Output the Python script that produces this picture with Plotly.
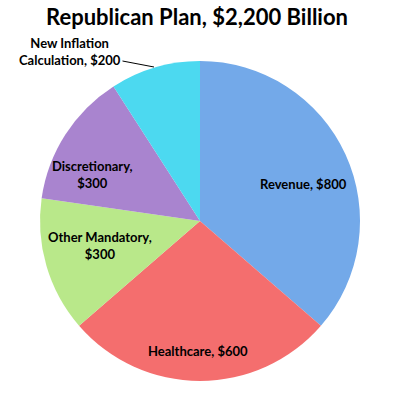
import plotly.graph_objects as go

categories = ["Revenue", "Healthcare", "Other Mandatory", "Discretionary", "New Inflation Calculation"]
values = [800, 600, 300, 300, 200]
label_text = ["Revenue, $800", "Healthcare, $600", "Other Mandatory,<br>$300", "Discretionary,<br>$300", "New Inflation<br>Calculation, $200"]
colors = ["#73a9e9", "#f46e6e", "#b9e88a", "#a984cf", "#4cd9f0"]

W, H = 394, 395
fig = go.Figure()
fig.add_trace(go.Pie(
    labels=categories, values=values, sort=False, direction="clockwise", rotation=0,
    marker=dict(colors=colors, line=dict(width=0)),
    textinfo="none", hoverinfo="label+value", showlegend=False,
    domain=dict(x=[40/W, 360/W], y=[1-381/H, 1-61/H]),
))

font = dict(family="Lato, 'Open Sans', sans-serif", size=13, color="#000")
# label positions (paper coords)
pos = [(303, 184), (198, 351), (100, 245), (92, 175)]
for (x, y), t in zip(pos, label_text[:4]):
    fig.add_annotation(x=x/W, y=1-y/H, xref="paper", yref="paper", text="<b>"+t+"</b>",
                       xanchor="center", yanchor="middle",
                       showarrow=False, font=font, align="center")
fig.add_annotation(x=154/W, y=1-67/H, xref="paper", yref="paper", text="<b>"+label_text[4]+"</b>",
                   showarrow=True, arrowhead=0, arrowwidth=1, arrowcolor="#000",
                   ax=-84, ay=-16, axref="pixel", font=font, align="center")

fig.update_layout(
    width=W, height=H, margin=dict(l=0, r=0, t=0, b=0),
    paper_bgcolor="white", plot_bgcolor="white",
    title=dict(text="<b>Republican Plan, $2,200 Billion</b>", x=0.5, xanchor="center",
               y=1-17/H, yanchor="middle", font=dict(family="Lato, 'Open Sans', sans-serif", size=22, color="#000")),
)
fig.write_html("out.html", config={"displayModeBar": False},
               post_script="document.body.style.margin='0';document.body.style.overflow='hidden';")
